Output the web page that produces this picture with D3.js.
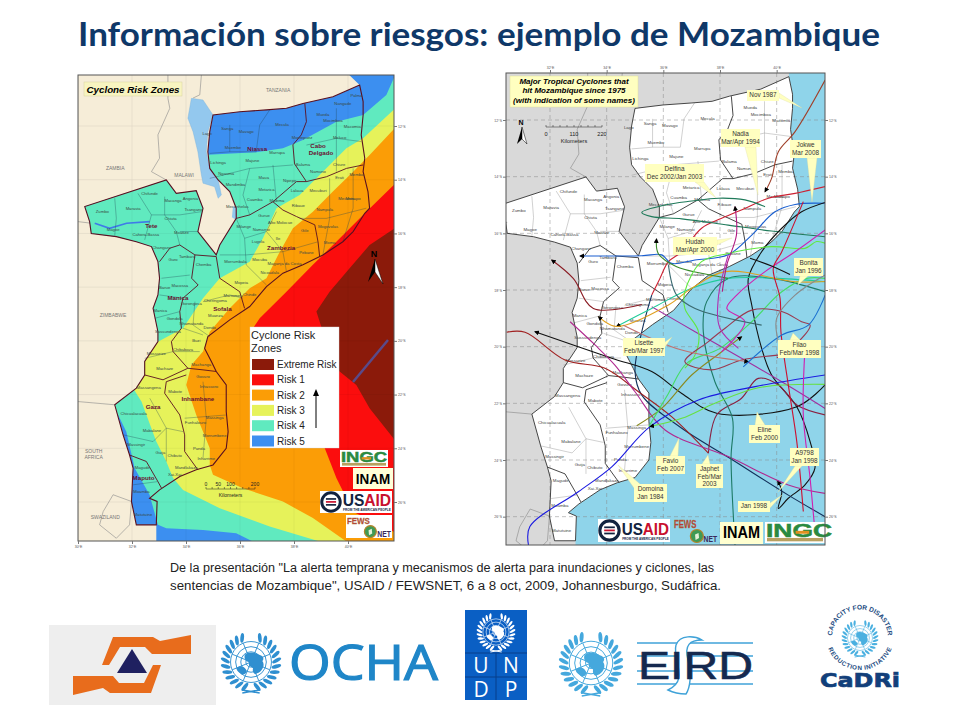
<!DOCTYPE html>
<html>
<head>
<meta charset="utf-8">
<script src="https://cdn.jsdelivr.net/npm/d3@7"></script>
<style>
  html, body { margin: 0; background: #fff; }
  text { font-family: "Liberation Sans", Arial, sans-serif; }
</style>
</head>
<body>
<svg id="slide" width="960" height="720"></svg>
<script>
// all map arrays are [lon, lat] in degrees

const outline = [[40.43,-10.47],[40.56,-11.09],[40.56,-11.59],[40.49,-12.33],[40.62,-13.20],[40.56,-13.70],[40.74,-14.44],[40.80,-15.06],[40.62,-15.25],[40.19,-15.93],[39.81,-16.31],[39.07,-16.80],[38.33,-17.17],[37.59,-17.48],[36.98,-17.98],[36.36,-18.72],[35.62,-19.22],[34.81,-19.84],[34.69,-20.28],[34.94,-20.77],[35.12,-21.14],[35.49,-21.64],[35.49,-22.63],[35.56,-23.38],[35.49,-24.00],[35.00,-24.62],[34.38,-24.80],[33.77,-25.05],[33.02,-25.55],[32.65,-25.86],[32.93,-25.98],[32.90,-26.85],
  [32.16,-26.85],[31.98,-25.98],[32.04,-24.74],[31.91,-24.25],[31.67,-23.50],[31.36,-22.38],[32.16,-21.76],[32.47,-21.27],[32.47,-20.77],[32.96,-20.03],[32.96,-19.66],[32.78,-18.79],[32.96,-18.29],[33.02,-17.67],[32.96,-17.05],[32.72,-16.49],[32.16,-16.31],[31.42,-16.12],[30.49,-16.00],[30.43,-15.56],[30.25,-15.00],[33.27,-14.01],[33.64,-14.51],[34.38,-14.41],[34.63,-15.06],[34.44,-15.93],[35.12,-16.80],[35.25,-16.43],[35.86,-15.44],[35.86,-15.06],[35.62,-14.44],[35.19,-14.01],[34.88,-13.58],[34.81,-12.96],[34.88,-12.21],[35.00,-11.59],[35.99,-11.47],[36.98,-11.40],[37.72,-11.34],[38.33,-11.16],[39.44,-10.91]];
const coast = outline.slice(0, 32);
const seaEdgeRisk = [[32.90,-27.6],[41.9,-27.6],[41.9,-10.0],[39.94,-10.0]];
const seaEdgeTracks = [[32.90,-27.6],[41.9,-27.6],[41.9,-9.9],[40.45,-9.9]];

const provinceLines = [
  [[38.40,-11.16],[38.46,-11.84],[38.27,-12.33],[37.96,-12.70],[38.02,-13.41],[38.46,-14.07]],
  [[35.86,-15.44],[36.36,-15.31],[37.22,-14.82],[38.09,-14.07],[38.46,-14.07],[39.20,-13.89],[39.94,-13.58],[40.56,-13.45]],
  [[37.22,-14.82],[37.59,-15.13],[38.09,-15.37],[38.77,-15.68],[38.89,-16.31],[38.95,-16.86]],
  [[33.02,-17.05],[33.40,-16.55],[33.77,-16.43],[34.33,-16.80],[35.12,-16.86]],
  [[34.33,-16.80],[34.21,-17.67],[34.45,-17.92],[33.89,-18.41],[33.77,-18.91],[33.83,-19.53],[33.46,-20.03],[33.52,-20.40],[34.07,-21.02]],
  [[35.12,-16.86],[35.25,-17.67],[35.99,-18.17],[36.17,-18.79]],
  [[32.47,-21.27],[33.15,-21.45],[34.07,-21.02],[34.63,-21.08],[35.12,-21.14]],
  [[34.01,-21.27],[33.27,-21.52],[33.21,-21.95],[33.77,-22.76],[33.95,-23.50],[33.95,-24.12],[34.44,-24.80]],
  [[31.91,-24.25],[32.53,-24.49],[32.96,-25.24],[33.09,-25.48]]
];
const districtLines = [
  [[31.36,-14.69],[31.42,-15.44],[31.36,-16.08]],
  [[32.22,-14.51],[32.72,-15.31],[32.47,-16.24]],
  [[32.72,-15.31],[33.77,-15.31],[34.57,-15.19]],
  [[33.21,-14.63],[33.21,-15.31],[33.64,-15.93],[33.77,-16.43]],
  [[33.77,-15.93],[34.44,-15.93]],
  [[33.09,-17.67],[34.14,-17.55]],
  [[33.02,-18.29],[33.89,-18.41]],
  [[32.84,-19.16],[33.77,-18.91]],
  [[34.63,-18.54],[35.62,-18.29],[36.11,-18.41]],
  [[34.33,-18.54],[34.26,-19.41],[34.88,-19.84]],
  [[33.89,-19.53],[34.63,-19.78]],
  [[33.52,-20.40],[34.51,-20.40]],
  [[35.86,-15.44],[36.17,-16.18],[36.98,-15.93],[37.35,-15.19]],
  [[36.17,-16.18],[36.23,-17.17],[36.98,-17.92]],
  [[35.25,-16.80],[36.23,-16.80],[37.59,-16.68],[38.89,-16.31]],
  [[36.98,-15.93],[37.59,-16.68],[37.72,-17.42]],
  [[38.21,-15.44],[39.20,-15.44],[40.68,-15.06]],
  [[39.32,-13.95],[39.32,-15.44],[39.07,-16.80]],
  [[40.19,-13.58],[40.19,-15.06],[39.81,-16.31]],
  [[38.46,-12.71],[39.57,-12.46],[40.49,-12.58]],
  [[39.57,-11.34],[39.57,-12.46],[39.57,-13.70]],
  [[35.62,-11.96],[35.62,-12.96],[34.88,-13.02]],
  [[35.62,-12.96],[36.60,-12.96],[36.73,-11.96],[37.10,-11.40]],
  [[34.88,-13.95],[36.36,-13.58],[37.96,-13.45]],
  [[36.36,-13.58],[36.11,-14.57],[36.36,-15.31]],
  [[37.22,-13.45],[37.35,-14.82]],
  [[31.67,-23.50],[32.78,-23.75],[33.27,-23.25],[33.89,-23.38]],
  [[32.66,-22.14],[33.27,-23.25],[33.27,-24.49]],
  [[33.95,-22.88],[35.49,-22.76]],
  [[34.63,-21.52],[34.75,-22.88],[34.63,-24.37]],
  [[32.04,-25.36],[32.96,-25.24]],
  [[32.47,-20.65],[33.52,-20.40]]
];
const borderLines = [
  [[34.57,-10.10],[34.51,-10.84],[34.26,-10.96]],
  [[33.33,-10.10],[33.33,-10.97],[33.40,-11.34],[32.96,-12.33],[33.02,-13.20],[32.72,-13.70],[33.27,-14.01]],
  [[30,-15.56],[30.49,-15.62]],
  [[30,-22.26],[31.36,-22.38]],
  [[30.93,-26.36],[31.30,-25.73],[31.98,-25.98],[31.91,-26.85],[31.42,-27.35],[30.80,-26.85],[30.93,-26.36]]
];
const lakeMalawi = [[34.20,-10.97],[34.63,-11.03],[35.00,-11.59],[34.81,-12.21],[34.75,-12.96],[34.88,-13.58],[35.19,-14.01],[35.31,-14.57],[35.19,-14.69],[35.06,-14.26],[34.63,-14.13],[34.57,-13.82],[34.44,-12.96],[34.26,-12.21],[34.07,-11.71]];
const lakeChilwa = [[35.74,-15.0],[35.9,-15.0],[35.86,-15.5],[35.7,-15.4]];
const cahoraBassa = [[30.62,-15.62],[31.17,-15.81],[31.80,-15.62],[32.65,-15.56]];

// risk zones, lowest to highest, painted over a Risk 5 base
const zoneRisk4 = [[34.63,-13.08],[36.60,-12.98],[37.59,-12.83],[38.33,-12.52],[39.57,-11.84],[40.56,-11.59],[41.42,-10.85],[41.69,-10.23],[41.9,-10.0],[41.9,-27.6],[36.73,-27.6],[35.86,-27.16],[34.63,-27.04],[33.27,-26.98],[32.96,-26.85],[32.65,-25.73],[32.10,-24.74],[31.79,-23.38],[31.30,-22.38],[29.94,-22.38],[29.94,-13.08]];
const zoneRisk3 = [[41.9,-11.2],[40.56,-12.46],[39.94,-12.83],[39.07,-13.70],[38.21,-14.57],[37.35,-15.06],[36.85,-16.18],[36.36,-17.05],[35.25,-17.67],[34.63,-18.41],[33.89,-19.53],[32.96,-20.03],[32.47,-20.65],[32.04,-21.76],[32.35,-22.26],[32.90,-23.75],[33.27,-24.49],[33.52,-25.11],[33.89,-25.55],[35.25,-26.23],[37.10,-26.91],[38.95,-27.47],[41.9,-27.6]];
const zoneRisk2 = [[41.9,-11.9],[40.80,-13.08],[40.19,-13.70],[39.44,-14.44],[38.70,-15.19],[37.96,-15.81],[37.41,-16.80],[36.98,-17.67],[36.36,-18.04],[35.62,-18.79],[34.88,-19.66],[34.63,-20.40],[34.20,-20.90],[34.01,-21.64],[34.38,-22.76],[34.88,-24.00],[34.88,-24.62],[35.00,-24.99],[36.11,-25.49],[37.59,-25.98],[38.70,-26.60],[39.94,-27.47],[41.9,-27.6]];
const zoneRisk1 = [[41.9,-14.0],[40.68,-15.19],[39.57,-16.31],[38.70,-17.17],[37.72,-18.17],[36.73,-19.16],[36.48,-19.53],[37.84,-21.64],[39.14,-24.00],[39.57,-25.11],[40.19,-26.36],[41.9,-27.2]];
const zoneExtreme = [[41.9,-15.7],[40.80,-16.43],[40.06,-17.30],[39.32,-18.17],[38.83,-18.91],[39.07,-19.66],[39.44,-20.65],[39.69,-21.14],[40.31,-21.64],[40.80,-22.51],[41.9,-23.9]];
const riskZones = [zoneRisk4, zoneRisk3, zoneRisk2, zoneRisk1, zoneExtreme];

const legendNames = ["Extreme Risk", "Risk 1", "Risk 2", "Risk 3", "Risk 4", "Risk 5"];
const legendColors = ["#8b1a0a", "#fb0d0d", "#fb9d06", "#e6f25a", "#60eabf", "#3c8ff0"];

const districtNames = ["Lago","Sanga","Mavago","Mecula","Muembe","Marrupa","Lichinga","Majune","Ngauma","Mandimba","Maua","Nipepe","Metarica","Cuamba","Malema","Mecanhelas","Lalaua","Mecuburi","Ribaue","Gurue","Milange","Namarroi","Ile","Alto Molocue","Lugela","Gile","Pebane","Morrumbala","Mocuba","Maganja da Costa","Nicoadala","Mopeia","Chinde","Marromeu","Cheringoma","Muanza","Nhamatanda","Dondo","Buzi","Chibabava","Machanga","Machaze","Mossurize","Sussundenga","Gondola","Manica","Macossa","Guro","Tambara","Changara","Cahora-Bassa","Magoe","Zumbo","Maravia","Chifunde","Macanga","Angonia","Tsangano","Chiuta","Moatize","Chemba","Gorongosa","Barue","Memba","Erati","Meconta","Mogovolas","Moma","Nampula","Monapo","Montepuez","Balama","Namuno","Chiure","Meluco","Macomia","Mueda","Mocimboa","Nangade","Palma","Massangena","Chicualacuala","Mabalane","Guija","Chibuto","Massingir","Mabote","Govuro","Inhassoro","Massinga","Funhalouro","Morrumbene","Panda","Inharrime","Mandlakaze","Xai-Xai","Magude","Moamba","Matutuine"];
const districtSpots = [[34.78,-12.27],[35.53,-12.11],[36.23,-12.21],[37.56,-11.94],[35.74,-12.79],[37.37,-12.99],[35.19,-13.35],[36.46,-13.30],[35.49,-13.79],[35.83,-14.17],[36.88,-13.91],[37.84,-14.05],[36.98,-14.38],[36.54,-14.75],[37.37,-14.79],[35.90,-15.00],[38.11,-14.41],[38.89,-14.42],[38.16,-14.98],[36.89,-15.34],[36.14,-15.75],[36.79,-15.85],[37.41,-16.18],[37.49,-15.59],[36.67,-16.31],[38.40,-15.90],[38.46,-16.70],[35.83,-17.05],[36.73,-16.99],[37.65,-17.11],[37.10,-17.45],[36.05,-17.82],[36.36,-18.29],[35.74,-18.33],[35.09,-18.50],[35.09,-19.06],[34.20,-19.37],[34.88,-19.51],[34.38,-20.00],[33.89,-20.34],[34.57,-20.90],[33.21,-21.02],[32.90,-20.49],[33.33,-19.66],[33.58,-19.18],[33.05,-18.89],[33.77,-17.96],[33.52,-16.99],[34.04,-16.86],[33.09,-16.52],[32.51,-16.03],[31.30,-15.87],[30.90,-15.20],[32.04,-15.08],[32.65,-14.51],[33.52,-14.79],[34.16,-14.69],[34.28,-15.13],[33.43,-15.44],[33.83,-15.96],[34.65,-17.17],[34.20,-18.63],[33.21,-18.00],[40.31,-13.82],[39.69,-13.91],[39.94,-14.69],[39.26,-15.75],[39.32,-16.34],[39.14,-15.11],[40.19,-14.69],[38.30,-12.45],[38.33,-13.45],[38.89,-13.70],[39.67,-13.45],[39.69,-12.43],[40.16,-12.02],[39.07,-11.57],[39.44,-11.81],[39.81,-11.16],[40.31,-10.85],[32.62,-21.74],[32.06,-22.69],[32.74,-23.34],[33.05,-24.16],[33.58,-24.27],[32.16,-23.87],[33.60,-21.90],[34.63,-21.33],[34.85,-21.70],[35.06,-22.84],[34.35,-23.03],[35.06,-23.53],[34.48,-24.00],[34.75,-24.37],[34.01,-24.72],[33.58,-24.99],[32.38,-24.72],[32.35,-25.61],[32.41,-26.48]];
const provinceNames = ["Niassa","Cabo","Delgado","Tete","Zambezia","Manica","Sofala","Gaza","Inhambane","Maputo"];
const provinceSpots = [[36.64,-12.84],[38.89,-12.74],[39.0,-13.00],[32.72,-15.73],[37.52,-16.54],[33.70,-18.40],[35.35,-18.82],[32.78,-22.46],[34.44,-22.15],[32.43,-25.09]];
const countryNames = ["TANZANIA","ZAMBIA","MALAWI","ZIMBABWE","SOUTH","AFRICA","SWAZILAND"];
const countrySpots = [[37.41,-10.66],[31.38,-13.58],[33.93,-13.82],[31.30,-19.06],[30.58,-24.10],[30.58,-24.34],[31.01,-26.58]];

const lonTicks = [30, 32, 34, 36, 38, 40];
const latTicks = [-12, -14, -16, -18, -20, -22, -24, -26];

// cyclone tracks
const trackColors = ["#a0402a","#cc2233","#1f7a5a","#1a5fd0","#111111","#12305a","#111111","#a02020","#8a2040","#b02a90","#a030a0","#1a1ae0","#1d7a66","#66e040","#8a8a20","#44dd66","#20cc99","#e0a020","#8a1a22","#3a8a2a","#60e840","#b01880","#d020b0","#9a3a50","#c07070","#cc1030","#d020b0","#1a70d0","#3a6a70","#8a8a8a","#111111","#b030b0"];
const trackPoints = [
  [[41.71,-10.59],[40.65,-12.41],[40.06,-13.12],[39.82,-14.06],[39.59,-14.53]],
  [[41.71,-14.35],[40.65,-14.59],[39.71,-14.76],[38.88,-15.12],[38.06,-15.47],[37.35,-15.82],[36.65,-16.65],[36.18,-17.00],[35.88,-17.59],[35.59,-18.18]],
  [[39.59,-15.06],[38.88,-14.82],[37.94,-14.76],[37.0,-14.86],[36.06,-15.0],[35.24,-15.26],[35.59,-15.41],[36.65,-15.49],[38.29,-15.71],[39.82,-15.92],[41.71,-16.12]],
  [[41.71,-14.94],[40.65,-14.98],[39.94,-15.24],[39.12,-16.06],[38.29,-16.76],[37.12,-16.94],[36.29,-17.06],[35.94,-16.76],[35.24,-16.79],[33.06,-16.80]],
  [[41.71,-14.91],[40.88,-15.24],[40.18,-15.82],[39.47,-16.65],[39.0,-17.59],[39.12,-18.53],[39.47,-20.06],[39.82,-21.0],[40.71,-22.12],[41.18,-23.35],[41.35,-24.29],[41.0,-24.88],[40.41,-25.35],[40.06,-25.71],[40.18,-25.12],[40.04,-24.74]],
  [[41.71,-26.0],[40.41,-25.24],[38.35,-23.94],[36.65,-22.88],[35.24,-21.71],[35.0,-20.88],[35.24,-19.47],[35.59,-18.18]],
  [[41.71,-21.35],[40.71,-22.12],[37.88,-22.35],[36.65,-21.65],[35.59,-20.88],[34.18,-20.41],[31.47,-19.47]],
  [[30.47,-19.49],[31.12,-19.49],[32.53,-20.47],[33.94,-20.76],[35.12,-21.59],[36.29,-22.47],[37.59,-23.76]],
  [[37.59,-23.76],[37.88,-22.41],[38.76,-21.82],[39.35,-21.12],[40.06,-21.35],[40.71,-22.06],[41.71,-22.41]],
  [[32.71,-19.12],[33.59,-19.94],[34.29,-20.65],[35.0,-21.59],[36.06,-22.94],[38.29,-23.88],[40.41,-24.88],[41.71,-25.18]],
  [[35.59,-18.59],[37.12,-19.47],[38.76,-20.41],[40.18,-21.24],[41.71,-22.18]],
  [[31.24,-27.0],[31.29,-26.35],[33.0,-25.12],[34.18,-24.24],[35.53,-22.82],[37.24,-21.88],[39.24,-21.41],[41.71,-21.0]],
  [[38.53,-27.0],[38.39,-23.94],[38.44,-22.53],[37.82,-21.24],[37.41,-19.47],[37.53,-18.41],[38.29,-17.59],[39.82,-17.59],[41.71,-18.06]],
  [[41.71,-21.33],[39.35,-21.45],[37.82,-22.0],[36.65,-22.53],[35.53,-22.82]],
  [[35.06,-22.79],[35.94,-22.18],[37.0,-21.0],[38.06,-20.18],[38.76,-19.65]],
  [[35.49,-22.82],[36.18,-21.65],[36.82,-20.59],[38.0,-20.06],[39.12,-19.12],[40.18,-18.06],[41.06,-17.59],[41.71,-17.59]],
  [[41.71,-17.71],[40.06,-17.59],[38.29,-17.59],[37.0,-17.94],[35.59,-18.65],[34.35,-19.29]],
  [[41.71,-17.70],[40.65,-17.71],[38.18,-17.35],[37.0,-17.94],[36.18,-18.53],[34.35,-19.29],[33.71,-18.94]],
  [[35.24,-18.51],[33.53,-18.65],[32.82,-17.59],[32.06,-16.94]],
  [[38.29,-17.59],[37.35,-17.41],[36.47,-17.18],[35.82,-16.71],[35.76,-16.2]],
  [[41.71,-16.35],[41.41,-16.29],[41.0,-16.53],[39.82,-16.47],[38.29,-16.71],[37.35,-17.0],[36.76,-18.06],[36.76,-18.65],[37.24,-19.47],[37.12,-20.29],[36.76,-20.76]],
  [[38.08,-18.06],[38.24,-17.12],[38.58,-16.06],[38.53,-15.06]],
  [[41.71,-15.88],[40.65,-16.65],[39.59,-17.35],[38.59,-18.18],[38.24,-18.65],[38.88,-19.12],[38.06,-20.18]],
  [[40.12,-20.29],[38.76,-20.47],[37.71,-20.82],[36.76,-20.53],[37.59,-19.82],[38.18,-19.35],[39.12,-18.71],[40.18,-18.76],[40.88,-19.12],[41.18,-19.24],[40.65,-19.94],[40.0,-20.4]],
  [[34.59,-19.24],[36.65,-20.12],[39,-20.53]],
  [[40.94,-14.88],[40.18,-16.65],[39.88,-17.24],[40.12,-18.29],[40.15,-19.47],[40.41,-21.35],[40.71,-23.35],[40.94,-25.82]],
  [[41.0,-20.06],[40.94,-22.41],[41.18,-24.65],[41.33,-26.29]],
  [[41.71,-18.18],[41.12,-19.24],[40.18,-19.59],[38.82,-20.71]],
  [[36.18,-17.12],[36.47,-18.18],[37.12,-18.65],[39.47,-19.24]],
  [[41.71,-17.47],[40.65,-18.18],[40.0,-19.0],[40.06,-19.82]],
  [[39.06,-16.88],[39.82,-17.15],[40.47,-17.45]],
  [[38.29,-16.76],[37.94,-18.29],[38.0,-19.35],[38.65,-20.06]]
];
const arrowedTracks = [0, 3, 4, 6, 13, 14, 16, 17, 18, 19, 21, 24];

// callouts on the track map
const calloutLines = [["Nov 1987"],["Nadia","Mar/Apr 1994"],["Jokwe","Mar 2008"],["Delfina","Dec 2002/Jan 2003"],["Hudah","Mar/Apr 2000"],["Bonita","Jan 1996"],["Lisette","Feb/Mar 1997"],["Filao","Feb/Mar 1998"],["Eline","Feb 2000"],["Favio","Feb 2007"],["Japhet","Feb/Mar","2003"],["Domoina","Jan 1984"],["A9798","Jan 1998"],["Jan 1998"]];

const svg = d3.select("#slide");
const defs = svg.append("defs");

defs.append("marker").attr("id", "track-arrow")
  .attr("viewBox", "0 -5 10 10").attr("refX", 8)
  .attr("markerWidth", 5).attr("markerHeight", 5)
  .attr("markerUnits", "userSpaceOnUse").attr("orient", "auto")
  .append("path").attr("d", "M0,-5L10,0L0,5").attr("fill", "#000");

// title + caption
svg.append("text").attr("x", 78).attr("y", 46)
  .attr("textLength", 802).attr("lengthAdjust", "spacingAndGlyphs")
  .style("font-family", "Lato, sans-serif").style("font-weight", 700).style("font-size", "32px")
  .attr("fill", "#0f3868").text("Información sobre riesgos: ejemplo de Mozambique");

const captionLines = ["De la presentación \"La alerta temprana y mecanismos de alerta para inundaciones y ciclones, las",
  "sentencias de Mozambique\", USAID / FEWSNET,  6 a 8 oct, 2009, Johannesburgo, Sudáfrica."];
svg.append("g").selectAll("text").data(captionLines).join("text")
  .attr("x", 170).attr("y", (d, i) => 572 + i * 17.5)
  .attr("textLength", (d, i) => i ? 551 : 544).attr("lengthAdjust", "spacingAndGlyphs")
  .style("font-size", "12px").attr("fill", "#222").text(d => d);

// ---- shared map helpers ----
const makeMap = ({ id, frame, lonRange, latRange }) => {
  const x = d3.scaleLinear().domain([lonRange[0], lonRange[1]]).range([lonRange[2], lonRange[3]]);
  const y = d3.scaleLinear().domain([-12, -26]).range(latRange);
  const line = d3.line().x(d => x(d[0])).y(d => y(d[1]));
  defs.append("clipPath").attr("id", id + "-clip").append("rect")
    .attr("x", frame[0]).attr("y", frame[1]).attr("width", frame[2]).attr("height", frame[3]);
  const g = svg.append("g");
  const inner = g.append("g").attr("clip-path", `url(#${id}-clip)`);
  return { id, frame, x, y, line, g, inner };
};

const paths = (parent, rows, line, stroke, width) => parent.append("g").selectAll("path").data(rows).join("path")
  .attr("d", d => line(d)).attr("fill", "none").attr("stroke", stroke).attr("stroke-width", width)
  .attr("stroke-linejoin", "round");

const labels = (parent, names, spots, map, size, fill, weight) => parent.append("g").selectAll("text").data(names).join("text")
  .attr("x", (d, i) => map.x(spots[i][0])).attr("y", (d, i) => map.y(spots[i][1]) + size / 3)
  .attr("text-anchor", "middle").style("font-size", size + "px").style("font-weight", weight || 400)
  .attr("fill", fill).text(d => d);

const frameAndTicks = (map, sides, lons) => {
  const [fx, fy, fw, fh] = map.frame;
  map.g.append("rect").attr("x", fx).attr("y", fy).attr("width", fw).attr("height", fh)
    .attr("fill", "none").attr("stroke", "#555").attr("stroke-width", 1);
  const lonFmt = d => d + "°E", latFmt = d => Math.abs(d) + "°S";
  const style = sel => {
    sel.select(".domain").remove();
    sel.selectAll("line").attr("stroke", "#777");
    sel.selectAll("text").style("font-size", "3.5px").attr("fill", "#555");
  };
  if (sides.includes("bottom")) map.g.append("g").attr("transform", `translate(0,${fy + fh})`)
    .call(d3.axisBottom(map.x).tickValues(lons).tickFormat(lonFmt).tickSize(3).tickPadding(2)).call(style);
  if (sides.includes("top")) map.g.append("g").attr("transform", `translate(0,${fy})`)
    .call(d3.axisTop(map.x).tickValues(lons).tickFormat(lonFmt).tickSize(3).tickPadding(1)).call(style);
  if (sides.includes("left")) map.g.append("g").attr("transform", `translate(${fx},0)`)
    .call(d3.axisLeft(map.y).tickValues(latTicks).tickFormat(latFmt).tickSize(3).tickPadding(1)).call(style);
  if (sides.includes("right")) map.g.append("g").attr("transform", `translate(${fx + fw},0)`)
    .call(d3.axisRight(map.y).tickValues(latTicks).tickFormat(latFmt).tickSize(3).tickPadding(1)).call(style);
};

const graticule = (map, lons, stroke, dash) => {
  const [fx, fy, fw, fh] = map.frame;
  map.inner.append("g").selectAll("line").data(lons).join("line")
    .attr("x1", d => map.x(d)).attr("x2", d => map.x(d)).attr("y1", fy).attr("y2", fy + fh)
    .attr("stroke", stroke).attr("stroke-width", 0.5).attr("stroke-dasharray", dash);
  map.inner.append("g").selectAll("line").data(latTicks).join("line")
    .attr("y1", d => map.y(d)).attr("y2", d => map.y(d)).attr("x1", fx).attr("x2", fx + fw)
    .attr("stroke", stroke).attr("stroke-width", 0.5).attr("stroke-dasharray", dash);
};

const northArrow = (parent, tx, ty, lx, ly, mx, my, rx, ry, nx, ny, nSize) => {
  parent.append("path").attr("d", `M${tx},${ty}L${lx},${ly}L${mx},${my}Z`).attr("fill", "#000");
  parent.append("path").attr("d", `M${tx},${ty}L${rx},${ry}L${mx},${my}Z`).attr("fill", "#fff").attr("stroke", "#000").attr("stroke-width", 0.5);
  parent.append("text").attr("x", nx).attr("y", ny).attr("text-anchor", "middle")
    .style("font-size", nSize + "px").style("font-weight", 700).text("N");
};

const scaleBar = (parent, x0, x1, y, km, labelDy, unitY, size) => {
  const s = d3.scaleLinear().domain([0, km[km.length - 1]]).range([x0, x1]);
  parent.append("line").attr("x1", x0).attr("x2", x1).attr("y1", y).attr("y2", y).attr("stroke", "#222").attr("stroke-width", 0.5);
  parent.append("g").selectAll("line").data(d3.range(0, km[km.length - 1] + 1, km[km.length - 1] / 8)).join("line")
    .attr("x1", d => s(d)).attr("x2", d => s(d)).attr("y1", y - 2).attr("y2", y).attr("stroke", "#222").attr("stroke-width", 0.5);
  parent.append("g").selectAll("text").data(km).join("text")
    .attr("x", d => s(d)).attr("y", y + labelDy).attr("text-anchor", "middle").style("font-size", size + "px").attr("fill", "#222").text(d => d);
  parent.append("text").attr("x", (x0 + x1) / 2).attr("y", unitY).attr("text-anchor", "middle").style("font-size", size + "px").attr("fill", "#222").text("Kilometers");
};

// ---- logos ----
const unEmblem = (parent, cx, cy, r, color) => {
  const g = parent.append("g").attr("transform", `translate(${cx},${cy})`);
  const globe = r * 0.66;
  d3.range(1, 5).forEach(i => g.append("circle").attr("r", globe * i / 4).attr("fill", "none").attr("stroke", color).attr("stroke-width", Math.max(0.5, r * 0.03)));
  d3.range(8).forEach(i => {
    const a = i * Math.PI / 4 + Math.PI / 8;
    g.append("line").attr("x2", globe * Math.cos(a)).attr("y2", globe * Math.sin(a)).attr("stroke", color).attr("stroke-width", Math.max(0.5, r * 0.03));
  });
  g.append("path").attr("fill", color).attr("transform", `scale(${r / 30})`)
    .attr("d", "M-6,-7C-2,-11 5,-9 8,-7C12,-6 13,-3 11,-1C14,3 11,9 6,11C3,13 1,9 2,6C-1,4 -3,3 -2,0C-5,0 -7,-3 -6,-7ZM-14,6C-11,3 -7,4 -5,7C-3,10 -6,13 -9,12C-11,10 -14,9 -14,6Z");
  // wreath: leaves lie along the ring, tips leaning outward
  [-1, 1].forEach(side => {
    d3.range(12).forEach(i => {
      const a = (i / 11) * 2.55 + 0.35;
      const px = side * r * 0.83 * Math.sin(a), py = -r * 0.83 * Math.cos(a);
      g.append("ellipse").attr("rx", r * 0.06).attr("ry", r * 0.16).attr("fill", color)
        .attr("transform", `translate(${px},${py}) rotate(${side * (a * 180 / Math.PI + 155)})`);
    });
  });
  g.append("path").attr("d", `M${-r * 0.28},${r * 1.0}L${r * 0.28},${r * 0.9}M${r * 0.28},${r * 1.0}L${-r * 0.28},${r * 0.9}`).attr("stroke", color).attr("stroke-width", r * 0.05);
};

const usaidLogo = (parent, x, y, w, h) => {
  parent.append("rect").attr("x", x).attr("y", y).attr("width", w).attr("height", h).attr("fill", "#fff");
  const cx = x + h * 0.5, cy = y + h * 0.5, r = h * 0.42;
  parent.append("circle").attr("cx", cx).attr("cy", cy).attr("r", r).attr("fill", "#fff").attr("stroke", "#12233f").attr("stroke-width", r * 0.32);
  d3.range(3).forEach(i => parent.append("rect").attr("x", cx - r * 0.55).attr("y", cy - r * 0.42 + i * r * 0.32).attr("width", r * 1.1).attr("height", r * 0.18).attr("fill", i === 1 ? "#c8102e" : "#12233f"));
  const t = parent.append("text").attr("x", x + h * 1.03).attr("y", y + h * 0.68).attr("textLength", w - h * 1.07)
    .attr("lengthAdjust", "spacingAndGlyphs").style("font-size", (h * 0.72) + "px").style("font-weight", 700);
  t.append("tspan").attr("fill", "#12233f").text("US");
  t.append("tspan").attr("fill", "#c8102e").text("AID");
  parent.append("text").attr("x", x + h * 1.05).attr("y", y + h * 0.92).attr("textLength", w - h * 1.1)
    .attr("lengthAdjust", "spacingAndGlyphs").style("font-size", (h * 0.14) + "px").style("font-weight", 700).attr("fill", "#12233f").text("FROM THE AMERICAN PEOPLE");
};

const fewsLogo = (parent, x, y, w, h, bg) => {
  if (bg) parent.append("rect").attr("x", x).attr("y", y).attr("width", w).attr("height", h).attr("fill", bg);
  parent.append("text").attr("x", x + w * 0.02).attr("y", y + h * 0.38).style("font-size", (h * 0.42) + "px").style("font-weight", 700)
    .attr("textLength", w * 0.5).attr("lengthAdjust", "spacingAndGlyphs").attr("fill", "#b8353a").attr("stroke", "#a88038").attr("stroke-width", 0.3).text("FEWS");
  parent.append("circle").attr("cx", x + w * 0.53).attr("cy", y + h * 0.72).attr("r", h * 0.26).attr("fill", "#3f9a55").attr("stroke", "#b5842a").attr("stroke-width", 1.2);
  parent.append("path").attr("d", `M${x + w * 0.49},${y + h * 0.66}l${h * 0.14},${-h * 0.06}l${h * 0.02},${h * 0.2}l${-h * 0.14},${h * 0.08}z`).attr("fill", "#e4f0d8");
  parent.append("text").attr("x", x + w * 0.68).attr("y", y + h * 0.96).style("font-size", (h * 0.36) + "px").style("font-weight", 700)
    .attr("textLength", w * 0.3).attr("lengthAdjust", "spacingAndGlyphs").attr("fill", "#3a2a5a").text("NET");
};

const inamLogo = (parent, x, y, w, h, bg) => {
  parent.append("rect").attr("x", x).attr("y", y).attr("width", w).attr("height", h).attr("fill", bg);
  parent.append("text").attr("x", x + w / 2).attr("y", y + h * 0.74).attr("text-anchor", "middle")
    .attr("textLength", w * 0.86).attr("lengthAdjust", "spacingAndGlyphs").style("font-size", (h * 0.72) + "px").style("font-weight", 700).attr("fill", "#000").text("INAM");
};

const ingcLogo = (parent, x, y, w, h, clipW) => {
  const g = parent.append("g");
  g.append("rect").attr("x", x).attr("y", y).attr("width", clipW).attr("height", h).attr("fill", "#fff");
  g.append("text").attr("x", x + 1).attr("y", y + h * 0.72).attr("textLength", w - 2).attr("lengthAdjust", "spacingAndGlyphs")
    .style("font-size", (h * 0.85) + "px").style("font-weight", 700).attr("fill", "#2a8a40").attr("stroke", "#2a8a40").attr("stroke-width", 0.5).text("INGC");
  g.append("rect").attr("x", x + 2).attr("y", y + h * 0.76).attr("width", clipW - 4).attr("height", h * 0.16).attr("fill", "#b8a060");
  g.append("rect").attr("x", x + w * 0.45).attr("y", y + h * 0.42).attr("width", w * 0.2).attr("height", h * 0.14).attr("fill", "#e09020");
};

// ---- left map: risk zones ----
const riskMap = makeMap({ id: "risk", frame: [78, 75, 316, 466], lonRange: [30, 40, 78, 348], latRange: [126, 502] });

riskMap.inner.append("rect").attr("x", 78).attr("y", 75).attr("width", 316).attr("height", 466).attr("fill", "#f6edd8");
graticule(riskMap, lonTicks, "#d8d0c0", null);
paths(riskMap.inner, borderLines, riskMap.line, "#8a8a8a", 0.6);

defs.append("clipPath").attr("id", "risk-zones")
  .selectAll("path").data([outline, coast.concat(seaEdgeRisk)]).join("path")
  .attr("d", d => riskMap.line(d) + "Z");

const zoneLayer = riskMap.inner.append("g").attr("clip-path", "url(#risk-zones)");
zoneLayer.append("rect").attr("x", 78).attr("y", 75).attr("width", 316).attr("height", 466).attr("fill", legendColors[5]);
zoneLayer.append("g").selectAll("path").data(riskZones).join("path")
  .attr("d", d => riskMap.line(d) + "Z")
  .attr("fill", (d, i) => legendColors[4 - i]);
graticule({ ...riskMap, inner: zoneLayer }, lonTicks, "#000", null);
zoneLayer.selectAll("line").attr("stroke-opacity", 0.08);

riskMap.inner.append("path").attr("d", riskMap.line(lakeMalawi) + "Z").attr("fill", "#93c8ee").attr("stroke", "#7ab0dc").attr("stroke-width", 0.4);
riskMap.inner.append("path").attr("d", riskMap.line(lakeChilwa) + "Z").attr("fill", "#93c8ee");
riskMap.inner.append("path").attr("d", riskMap.line(cahoraBassa)).attr("fill", "none").attr("stroke", "#3f7be8").attr("stroke-width", 1.6);
paths(riskMap.inner, districtLines, riskMap.line, "#245", 0.45).attr("stroke-opacity", 0.75);
paths(riskMap.inner, provinceLines, riskMap.line, "#5a1020", 0.9);
riskMap.inner.append("path").attr("d", riskMap.line(outline) + "Z").attr("fill", "none").attr("stroke", "#5a1020").attr("stroke-width", 1.1);

labels(riskMap.inner, districtNames, districtSpots, riskMap, 4.2, "#3a4a44");
labels(riskMap.inner, provinceNames, provinceSpots, riskMap, 6.2, "#6a1030", 700);
labels(riskMap.inner, countryNames, countrySpots, riskMap, 5, "#777");

riskMap.g.append("line").attr("x1", 353).attr("y1", 382).attr("x2", 388).attr("y2", 340).attr("stroke", "#5a4a8a").attr("stroke-width", 2.5);

// title box
riskMap.g.append("rect").attr("x", 84).attr("y", 82).attr("width", 98).attr("height", 14).attr("fill", "#f8f4c0").attr("stroke", "#d8d4a0").attr("stroke-width", 0.5);
riskMap.g.append("text").attr("x", 133).attr("y", 92.5).attr("text-anchor", "middle")
  .style("font-size", "9.8px").style("font-weight", 700).style("font-style", "italic").text("Cyclone Risk Zones");

northArrow(riskMap.g, 375, 259, 368, 282, 375, 272, 383, 284, 374, 257, 9);

// legend
const legend = riskMap.g.append("g");
legend.append("rect").attr("x", 250).attr("y", 327).attr("width", 89).attr("height", 121).attr("fill", "#fff").attr("stroke", "#ddd").attr("stroke-width", 0.4);
["Cyclone Risk", "Zones"].forEach((t, i) => legend.append("text").attr("x", 251).attr("y", 338.5 + i * 13.5).style("font-size", "11px").attr("fill", "#222").text(t));
legend.selectAll("rect.sw").data(legendNames).join("rect").attr("class", "sw")
  .attr("x", 252).attr("y", (d, i) => 359 + i * 15.3).attr("width", 22).attr("height", 11).attr("fill", (d, i) => legendColors[i]);
legend.selectAll("text.nm").data(legendNames).join("text").attr("class", "nm")
  .attr("x", 277).attr("y", (d, i) => 368 + i * 15.3).style("font-size", "10px").attr("fill", "#222").text(d => d);
legend.append("line").attr("x1", 316).attr("x2", 316).attr("y1", 428).attr("y2", 394).attr("stroke", "#000").attr("stroke-width", 1);
legend.append("path").attr("d", "M316,389L319,396L313,396Z").attr("fill", "#000");

scaleBar(riskMap.g, 206, 255, 489, [0, 50, 100, 200], -3, 497, 5);

ingcLogo(riskMap.g, 340, 450, 48, 17, 48);
inamLogo(riskMap.g, 353, 468, 40, 21, "#ffffd8");
usaidLogo(riskMap.g, 320, 491, 72, 22);
fewsLogo(riskMap.g, 346, 515, 46, 23, "#fff");
frameAndTicks(riskMap, ["bottom", "right"], lonTicks);

// ---- right map: cyclone tracks ----
const trackMap = makeMap({ id: "track", frame: [506, 73, 319, 472], lonRange: [32, 40, 550, 776.67], latRange: [120, 516.67] });
const inner = trackMap.inner;

// callouts, boxes and tails placed by hand to avoid the tracks
const calloutBoxes = [[747,90,32,11],[721,129,39,18],[790,140,31,18],[645,164,59,18],[673,237,44,18],[794,258,29,18],[623,338,42,18],[778,340,43,18],[749,425,31,18],[656,456,29,18],[696,464,27,24],[634,484,33,18],[790,448,29,18],[738,501,32,11]];
const calloutTails = ["779,93 779,98 802,108","745,147 756,147 758,195","807,158 817,158 812,202","695,182 704,182 716,198","717,240 717,245 732,238","800,276 808,276 798,285","665,342 665,347 672,337","790,340 800,340 793,333","755,425 765,425 757,412","670,456 678,456 679,438","702,464 710,464 708,455","634,488 640,484 618,465","795,466 802,466 778,492","770,503 770,508 782,495"];

inner.append("rect").attr("x", 506).attr("y", 73).attr("width", 319).attr("height", 472).attr("fill", "#d9d9d9");
inner.append("path").attr("d", trackMap.line(coast.concat(seaEdgeTracks)) + "Z").attr("fill", "#8fd4ea");
inner.append("path").attr("d", trackMap.line(outline) + "Z").attr("fill", "#fff");
graticule(trackMap, [32, 34, 36, 38, 40], "#888", "4,3");
paths(inner, borderLines, trackMap.line, "#777", 0.5);
paths(inner, districtLines, trackMap.line, "#999", 0.45);
paths(inner, provinceLines, trackMap.line, "#333", 0.9);
inner.append("path").attr("d", trackMap.line(outline) + "Z").attr("fill", "none").attr("stroke", "#333").attr("stroke-width", 0.9);

// names that the callouts would sit on top of are not shown on this map
const clearOfCallouts = i => {
  const px = trackMap.x(districtSpots[i][0]), py = trackMap.y(districtSpots[i][1]);
  return !calloutBoxes.some(b => px > b[0] - 13 && px < b[0] + b[2] + 13 && py > b[1] - 4 && py < b[1] + b[3] + 4);
};
const shownIdx = d3.range(districtNames.length).filter(clearOfCallouts);
labels(inner, shownIdx.map(i => districtNames[i]), shownIdx.map(i => districtSpots[i]), trackMap, 4.4, "#444");

const trackLine = d3.line().x(d => trackMap.x(d[0])).y(d => trackMap.y(d[1])).curve(d3.curveCatmullRom.alpha(0.5));
inner.append("g").selectAll("path").data(trackPoints).join("path")
  .attr("d", d => trackLine(d)).attr("fill", "none")
  .attr("stroke", (d, i) => trackColors[i]).attr("stroke-width", 1.1)
  .attr("marker-end", (d, i) => arrowedTracks.includes(i) ? "url(#track-arrow)" : null);

// title box
const cycloneTitle = ["Major Tropical Cyclones that", "hit Mozambique since 1975", "(with indication of some names)"];
trackMap.g.append("rect").attr("x", 510).attr("y", 76).attr("width", 128).attr("height", 31).attr("fill", "#ffffc0").attr("stroke", "#e0e0a0").attr("stroke-width", 0.5);
trackMap.g.append("g").selectAll("text").data(cycloneTitle).join("text")
  .attr("x", 574).attr("y", (d, i) => 84 + i * 9.3).attr("text-anchor", "middle")
  .style("font-size", "8px").style("font-weight", 700).style("font-style", "italic").text(d => d);

northArrow(trackMap.g, 522, 127, 517, 144, 522, 139, 527, 144, 521, 125, 7);
scaleBar(trackMap.g, 546, 602, 127, [0, 110, 220], 9, 143, 5.6);

const callouts = trackMap.g.append("g").selectAll("g").data(calloutLines).join("g");
callouts.append("polygon").attr("points", (d, i) => calloutTails[i]).attr("fill", "#ffffc0").attr("stroke", "#d8d8a0").attr("stroke-width", 0.3);
callouts.append("rect").attr("x", (d, i) => calloutBoxes[i][0]).attr("y", (d, i) => calloutBoxes[i][1])
  .attr("width", (d, i) => calloutBoxes[i][2]).attr("height", (d, i) => calloutBoxes[i][3]).attr("fill", "#ffffc0");
callouts.each(function (d, i) {
  const b = calloutBoxes[i];
  d3.select(this).selectAll("text").data(d).join("text")
    .attr("x", b[0] + b[2] / 2).attr("y", (t, k) => b[1] + 7.4 + k * 7.3).attr("text-anchor", "middle")
    .style("font-size", "6.4px").attr("fill", "#333").text(t => t);
});

usaidLogo(trackMap.g, 598, 519, 72, 23);
fewsLogo(trackMap.g, 673, 518, 45, 25);
inamLogo(trackMap.g, 720, 522, 43, 22, "#ffffd0");
ingcLogo(trackMap.g, 765, 522, 68, 21, 60);
frameAndTicks(trackMap, ["top", "left", "right"], [32, 34, 36, 38, 40]);

// ---- logo strip ----
const strip = svg.append("g");
strip.append("rect").attr("x", 49).attr("y", 625).attr("width", 167).attr("height", 80).attr("fill", "#eeeeee");
strip.append("polygon").attr("points", "102,665 113,637 153,637 160,641 191,635 191,654 152,654 145,647 120,647 109,665").attr("fill", "#e86c1c");
strip.append("polygon").attr("points", "161,665 151,693 110,693 103,688 73,695 73,676 113,676 119,683 144,683 153,665").attr("fill", "#e86c1c");
strip.append("polygon").attr("points", "132,649 147,673 117,673").attr("fill", "#1f2060");

unEmblem(strip, 251, 662, 31, "#2f8fd0");
strip.append("text").attr("x", 289).attr("y", 680).attr("textLength", 149).attr("lengthAdjust", "spacingAndGlyphs")
  .style("font-family", "'Open Sans', sans-serif").style("font-size", "49px").attr("fill", "#1f86c8").attr("stroke", "#1f86c8").attr("stroke-width", 1.2).text("OCHA");

strip.append("rect").attr("x", 465).attr("y", 610).attr("width", 62).attr("height", 90).attr("fill", "#0a5fc4");
strip.append("path").attr("d", "M465,653H527M465,677H527M496,653V700").attr("stroke", "#063e8a").attr("stroke-width", 1);
unEmblem(strip, 496, 632, 20, "#fff");
strip.append("g").selectAll("text").data(["U", "N", "D", "P"]).join("text")
  .attr("x", (d, i) => i % 2 ? 511 : 481).attr("y", (d, i) => i < 2 ? 673 : 697).attr("text-anchor", "middle")
  .style("font-family", "'Open Sans', sans-serif").style("font-size", "21px").attr("fill", "#fff").text(d => d);

unEmblem(strip, 591, 663, 33, "#45a8dd");
strip.append("g").selectAll("line").data([643, 656, 671, 684]).join("line")
  .attr("x1", 637).attr("x2", 753).attr("y1", d => d).attr("y2", d => d).attr("stroke", "#3fa2d8").attr("stroke-width", 1.6);
strip.append("path").attr("d", "M668,690C690,680 672,660 676,645C680,634 695,636 702,640C690,640 684,645 688,660C692,675 690,688 686,694C680,694 672,692 668,690Z").attr("fill", "#fff").attr("stroke", "#3fa2d8").attr("stroke-width", 1.4);
strip.append("text").attr("x", 638).attr("y", 679).attr("textLength", 115).attr("lengthAdjust", "spacingAndGlyphs")
  .style("font-size", "38px").attr("fill", "#15294f").attr("stroke", "#15294f").attr("stroke-width", 0.6).text("EIRD");

unEmblem(strip, 860, 638, 19, "#4ab0e0");
defs.append("path").attr("id", "cadri-top").attr("d", "M833,645A28,28 0 1 1 887,645");
defs.append("path").attr("id", "cadri-bottom").attr("d", "M831,636A29,29 0 0 0 889,636");
strip.append("text").style("font-size", "6.6px").style("font-weight", 700).attr("fill", "#1a4a80")
  .append("textPath").attr("href", "#cadri-top").attr("startOffset", "50%").attr("text-anchor", "middle").text("CAPACITY FOR DISASTER");
strip.append("text").style("font-size", "6.2px").style("font-weight", 700).attr("fill", "#1a4a80").attr("dy", 5)
  .append("textPath").attr("href", "#cadri-bottom").attr("startOffset", "50%").attr("text-anchor", "middle").text("REDUCTION INITIATIVE");
strip.append("text").attr("x", 820).attr("y", 687).attr("textLength", 80).attr("lengthAdjust", "spacingAndGlyphs")
  .style("font-family", "'DejaVu Sans', sans-serif").style("font-size", "20px").style("font-weight", 700).attr("fill", "#123f7a").attr("stroke", "#123f7a").attr("stroke-width", 0.7).text("CaDRi");
</script>
</body>
</html>
